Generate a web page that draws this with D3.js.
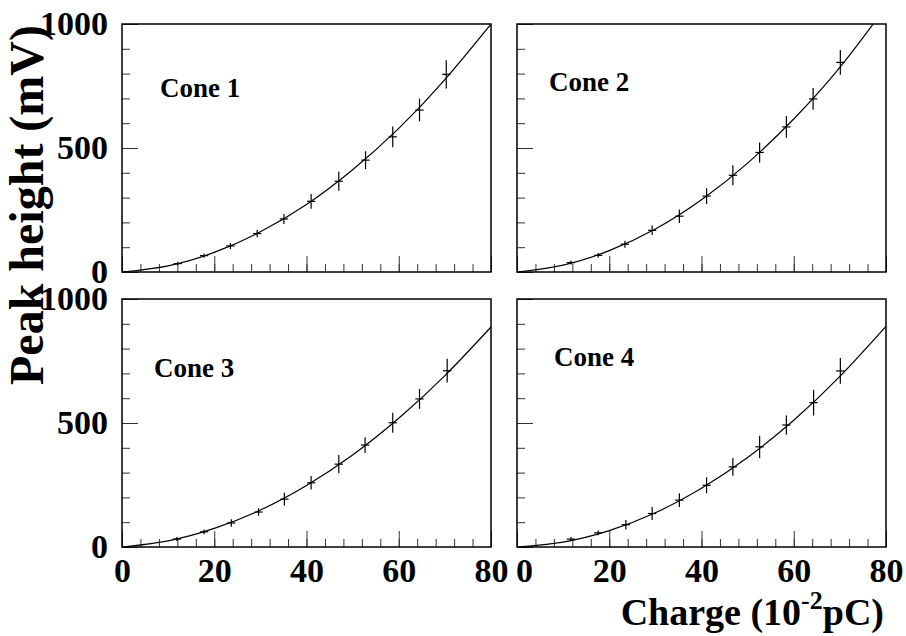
<!DOCTYPE html>
<html>
<head>
<meta charset="utf-8">
<script src="https://cdn.jsdelivr.net/npm/d3@7"></script>
<style>
  body { margin: 0; padding: 0; background: #fff; }
  svg text { font-family: "Liberation Serif", "Times New Roman", serif; font-weight: bold; fill: #000; }
  .tick line { stroke: #333; stroke-width: 1; }
</style>
</head>
<body>
<script>
// data
var coneNames = ["Cone 1", "Cone 2", "Cone 3", "Cone 4"];

var charge1 = [12.1, 17.8, 23.5, 29.3, 35.1, 41.0, 47.0, 52.8, 58.7, 64.5, 70.3];
var peak1   = [34, 66, 105, 155, 214, 285, 366, 451, 545, 653, 797];
var err1    = [7, 9, 12, 15, 20, 30, 38, 36, 42, 46, 57];

var charge2 = [11.7, 17.6, 23.4, 29.3, 35.2, 41.1, 46.8, 52.6, 58.4, 64.2, 70.1];
var peak2   = [38, 67, 112, 168, 225, 306, 390, 482, 585, 698, 845];
var err2    = [8, 10, 14, 19, 27, 32, 40, 40, 44, 44, 50];

var charge3 = [11.9, 17.8, 23.7, 29.6, 35.2, 41.0, 47.0, 52.7, 58.7, 64.5, 70.5];
var peak3   = [32, 61, 97, 141, 193, 259, 334, 411, 501, 597, 711];
var err3    = [8, 10, 15, 15, 26, 27, 37, 32, 40, 40, 48];

var charge4 = [11.7, 17.6, 23.6, 29.3, 35.2, 41.1, 46.8, 52.6, 58.4, 64.3, 70.1];
var peak4   = [32, 57, 90, 135, 189, 249, 323, 404, 492, 582, 710];
var err4    = [8, 10, 19, 26, 28, 32, 36, 45, 38, 52, 52];

var chargeErr = 0.9;

// fitted curve, sampled every 10 units
var fitCharge = [0, 10, 20, 30, 40, 50, 60, 70, 80];
var fit1 = [0, 25, 79, 162, 272, 412, 579, 776, 1000];
var fit2 = [0, 28, 86, 173, 291, 439, 617, 825, 1070];
var fit3 = [0, 25, 75, 149, 248, 371, 519, 691, 887];
var fit4 = [0, 20, 66, 138, 237, 361, 511, 688, 890];

var xMajorTicks = [0, 20, 40, 60, 80];
var yMajorTicks = [0, 500, 1000];

var charges = [charge1, charge2, charge3, charge4];
var peaks = [peak1, peak2, peak3, peak4];
var errs = [err1, err2, err3, err4];
var fits = [fit1, fit2, fit3, fit4];

// layout
var W = 906, H = 636;
var colX = [122, 517], rowY = [24, 299];
var pw = 369, ph = 248;
var labelPos = [[38, 73], [32, 67], [32, 78], [37, 67]];

var svg = d3.select("body").append("svg")
  .attr("width", W).attr("height", H);

var x = d3.scaleLinear().domain([0, 80]).range([0, pw]);
var y = d3.scaleLinear().domain([0, 1000]).range([ph, 0]);

var line = d3.line()
  .x(function(d){ return x(d[0]); })
  .y(function(d){ return y(d[1]); })
  .curve(d3.curveNatural);

coneNames.forEach(function(name, i){
  var col = i % 2, row = Math.floor(i / 2);
  var g = svg.append("g").attr("transform", "translate(" + colX[col] + "," + rowY[row] + ")");

  g.append("clipPath").attr("id", "clip" + i)
    .append("rect").attr("width", pw).attr("height", ph);

  // minor ticks
  g.append("g").attr("transform", "translate(0," + ph + ")")
    .call(d3.axisBottom(x).tickValues(d3.range(0, 81, 4)).tickSize(-8).tickFormat(""))
    .call(function(s){ s.select(".domain").remove(); });
  g.append("g")
    .call(d3.axisLeft(y).tickValues(d3.range(0, 1001, 100)).tickSize(-8).tickFormat(""))
    .call(function(s){ s.select(".domain").remove(); });

  // major ticks + labels
  var xa = d3.axisBottom(x).tickValues(xMajorTicks).tickSize(-16).tickPadding(11)
    .tickFormat(row == 0 ? "" : d3.format("d"));
  var xg = g.append("g").attr("class", "xaxis").attr("transform", "translate(0," + ph + ")")
    .call(xa)
    .call(function(s){ s.select(".domain").remove(); s.selectAll("text").style("font-size", "34px"); });
  // right panel's first label sits a bit off its tick, as in the original
  if (col == 1) xg.select(".tick text").attr("dx", 7);

  var ya = d3.axisLeft(y).tickValues(yMajorTicks).tickSize(-16).tickPadding(14)
    .tickFormat(col == 1 ? "" : d3.format("d"));
  g.append("g").attr("class", "yaxis")
    .call(ya)
    .call(function(s){ s.select(".domain").remove(); s.selectAll("text").style("font-size", "34px"); });

  // fit curve
  var pts = fitCharge.map(function(c, k){ return [c, fits[i][k]]; });
  g.append("path").datum(pts)
    .attr("clip-path", "url(#clip" + i + ")")
    .attr("d", line)
    .attr("fill", "none").attr("stroke", "#000").attr("stroke-width", 1.2);

  // error bar crosses
  var data = charges[i].map(function(c, k){ return {c: c, p: peaks[i][k], e: errs[i][k]}; });
  var marks = g.append("g").selectAll("g").data(data).enter().append("g");
  marks.append("line")
    .attr("x1", function(d){ return x(d.c); }).attr("x2", function(d){ return x(d.c); })
    .attr("y1", function(d){ return y(d.p - d.e); }).attr("y2", function(d){ return y(d.p + d.e); })
    .attr("stroke", "#000").attr("stroke-width", 1.2);
  marks.append("line")
    .attr("x1", function(d){ return x(d.c - chargeErr); }).attr("x2", function(d){ return x(d.c + chargeErr); })
    .attr("y1", function(d){ return y(d.p); }).attr("y2", function(d){ return y(d.p); })
    .attr("stroke", "#000").attr("stroke-width", 1.2);

  // frame
  g.append("rect").attr("width", pw).attr("height", ph)
    .attr("fill", "none").attr("stroke", "#000").attr("stroke-width", 1.5);

  g.append("text")
    .attr("x", labelPos[i][0]).attr("y", labelPos[i][1])
    .style("font-size", "27px")
    .text(name);
});

// axis titles
svg.append("text")
  .attr("transform", "translate(43,205) rotate(-90)")
  .attr("text-anchor", "middle")
  .style("font-size", "48px")
  .text("Peak height (mV)");

var xt = svg.append("text")
  .attr("x", 884).attr("y", 625)
  .attr("text-anchor", "end")
  .style("font-size", "38px");
xt.append("tspan").text("Charge (10");
xt.append("tspan").attr("dy", -16).style("font-size", "26px").text("-2");
xt.append("tspan").attr("dy", 16).text("pC)");
</script>
</body>
</html>
